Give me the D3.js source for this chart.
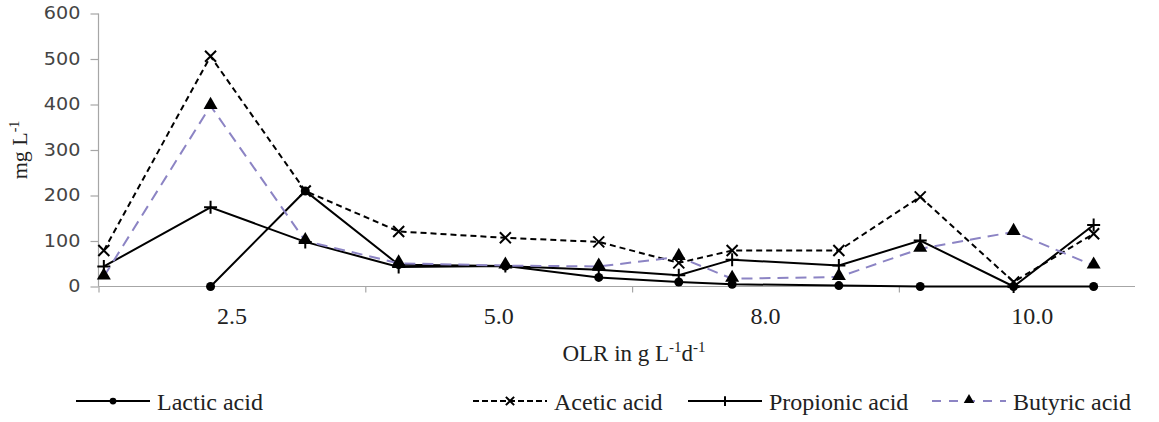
<!DOCTYPE html>
<html>
<head>
<meta charset="utf-8">
<script src="https://cdn.jsdelivr.net/npm/d3@7"></script>
<style>
  body { margin: 0; background: #fff; }
  svg { display: block; }
</style>
</head>
<body>
<div class="svg-container"></div>
<script>
// sampling positions along the run (axis units, ticks every 20)
const runPos = [0.4, 8.4, 15.5, 22.5, 30.5, 37.5, 43.5, 47.5, 55.5, 61.6, 68.6, 74.6];
const lactic = [null, 0, 210, 48, 45, 20, 10, 5, 2, 0, 0, 0];
const acetic = [79, 506, 210, 121, 107, 98, 52, 79, 79, 197, 10, 116];
const propionic = [44, 174, 98, 43, 45, 37, 25, 59, 46, 101, 0, 135];
const butyric = [22, 397, 100, 51, 46, 44, 65, 17, 21, 83, 120, 46];

const xTicks = [0, 20, 40, 60];
const olrLabelPos = [10, 30, 50, 70];
const olrLabels = ['2.5', '5.0', '8.0', '10.0'];
const yTicks = [0, 100, 200, 300, 400, 500, 600];

function renderChart() {
  const width = 1159;
  const height = 422;
  const margin = { top: 13.5, right: 24, bottom: 135.5, left: 98.5 };
  const serif = 'Liberation Serif, Times New Roman, serif';

  const svg = d3.select('.svg-container')
    .append('svg')
    .attr('width', width)
    .attr('height', height);

  const x = d3.scaleLinear().domain([0, 77.7]).range([margin.left, width - margin.right]);
  const y = d3.scaleLinear().domain([0, 600]).range([height - margin.bottom, margin.top]);

  // y axis
  const yAxis = svg.append('g')
    .attr('transform', `translate(${margin.left},0)`)
    .call(d3.axisLeft(y).tickValues(yTicks).tickSize(8).tickFormat(d3.format('d')));
  yAxis.selectAll('line, path').attr('stroke', '#a6a6a6').attr('stroke-width', 1.2);
  yAxis.select('.domain').attr('d', `M0,${y(600)}V${y(0)}`);
  yAxis.selectAll('text')
    .attr('font-family', 'DejaVu Sans, Verdana, sans-serif')
    .attr('font-size', 17)
    .attr('fill', '#444')
    .attr('x', -18 / 1.13)
    .attr('transform', 'scale(1.13,1)');

  // x axis
  const xAxis = svg.append('g')
    .attr('transform', `translate(0,${y(0)})`)
    .call(d3.axisBottom(x).tickValues(xTicks).tickSize(6).tickFormat(''));
  xAxis.selectAll('line, path').attr('stroke', '#a6a6a6').attr('stroke-width', 1.2);
  xAxis.select('.domain').attr('d', `M${x(0)},0H${x(77.7)}`);

  svg.append('g').selectAll('text')
    .data(olrLabels)
    .enter()
    .append('text')
    .attr('x', (d, i) => x(olrLabelPos[i]))
    .attr('y', y(0) + 37.5)
    .attr('text-anchor', 'middle')
    .attr('font-family', serif)
    .attr('font-size', 24)
    .attr('fill', '#222')
    .text(d => d);

  // axis titles
  const xt = svg.append('text')
    .attr('x', 634)
    .attr('y', 361)
    .attr('text-anchor', 'middle')
    .attr('font-family', serif)
    .attr('font-size', 23)
    .attr('fill', '#222');
  xt.append('tspan').text('OLR in g L');
  xt.append('tspan').attr('font-size', 15).attr('dy', -9).text('-1');
  xt.append('tspan').attr('dy', 9).text('d');
  xt.append('tspan').attr('font-size', 15).attr('dy', -9).text('-1');

  const yt = svg.append('text')
    .attr('transform', `translate(27,${(y(600) + y(0)) / 2}) rotate(-90)`)
    .attr('text-anchor', 'middle')
    .attr('font-family', serif)
    .attr('font-size', 22)
    .attr('fill', '#222');
  yt.append('tspan').text('mg L');
  yt.append('tspan').attr('font-size', 14).attr('dy', -8).text('-1');

  const series = [
    { name: 'Lactic acid', values: lactic, color: '#000', dash: null, legendDash: null, marker: 'circle' },
    { name: 'Acetic acid', values: acetic, color: '#000', dash: '6,4', legendDash: '6,3', marker: 'x' },
    { name: 'Propionic acid', values: propionic, color: '#000', dash: null, legendDash: null, marker: 'plus' },
    { name: 'Butyric acid', values: butyric, color: '#8c84c4', dash: '11,7', legendDash: '9,8', marker: 'triangle' }
  ];

  const line = d3.line()
    .defined(d => d.v !== null)
    .x(d => x(d.x))
    .y(d => y(d.v));

  function drawMarker(g, type, s) {
    if (type === 'circle') {
      g.append('circle').attr('r', 4.5 * s).attr('fill', '#000');
    } else if (type === 'x') {
      const r = 5.5 * s;
      g.append('path').attr('d', `M${-r},${-r}L${r},${r}M${-r},${r}L${r},${-r}`)
        .attr('stroke', '#000').attr('stroke-width', 2);
    } else if (type === 'plus') {
      const r = 6.5 * s;
      g.append('path').attr('d', `M${-r},0H${r}M0,${-r}V${r}`)
        .attr('stroke', '#000').attr('stroke-width', 2);
    } else if (type === 'triangle') {
      g.append('path').attr('d', d3.symbol().type(d3.symbolTriangle).size(85 * s * s)())
        .attr('transform', 'translate(0,-1)')
        .attr('fill', '#000');
    }
  }

  series.forEach(s => {
    const pts = s.values.map((v, i) => ({ x: runPos[i], v: v }));
    svg.append('path')
      .datum(pts)
      .attr('fill', 'none')
      .attr('stroke', s.color)
      .attr('stroke-width', 2)
      .attr('stroke-dasharray', s.dash)
      .attr('d', line);
    pts.filter(d => d.v !== null).forEach(d => {
      const g = svg.append('g').attr('transform', `translate(${x(d.x)},${y(d.v)})`);
      drawMarker(g, s.marker, 1);
    });
  });

  // legend
  const legendX = [76, 473, 688, 932];
  const legendY = 401;
  series.forEach((s, i) => {
    const lg = svg.append('g').attr('transform', `translate(${legendX[i]},${legendY})`);
    lg.append('line')
      .attr('x1', 0).attr('x2', 74)
      .attr('y1', 0).attr('y2', 0)
      .attr('stroke', s.color)
      .attr('stroke-width', 2)
      .attr('stroke-dasharray', s.legendDash);
    const m = lg.append('g').attr('transform', 'translate(37,0)');
    drawMarker(m, s.marker, 0.75);
    lg.append('text')
      .attr('x', 81)
      .attr('y', 9)
      .attr('font-family', serif)
      .attr('font-size', 24)
      .attr('fill', '#222')
      .text(s.name);
  });
}

renderChart();
</script>
</body>
</html>
